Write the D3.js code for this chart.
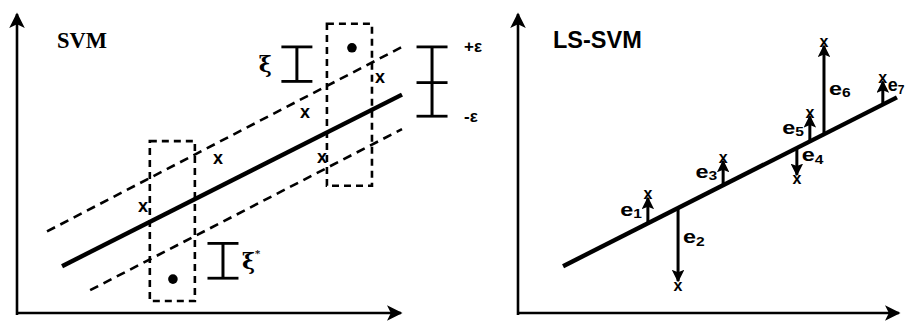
<!DOCTYPE html>
<html><head><meta charset="utf-8">
<script src="https://cdn.jsdelivr.net/npm/d3@7"></script>
<style>body{margin:0;background:#fff}svg{display:block}</style>
</head><body><svg id="c" width="907" height="321"></svg>
<script>
// ---------- data (abstract units 0..10 on each panel) ----------
const panelTitles = ["SVM", "LS-SVM"];
// SVM panel
const svmFitLine   = [[1.17, 1.56], [10, 7.28]];
const svmUpperTube = [[0.78, 2.72], [10, 8.87]];
const svmLowerTube = [[1.90, 0.76], [10, 6.13]];
const svmInX = [3.27, 5.22, 7.48, 7.92, 9.43];
const svmInY = [3.58, 5.17, 6.69, 5.20, 7.88];
const svmOutX = [4.05, 8.70];
const svmOutY = [1.13, 8.84];
const boxX0 = [3.45, 8.05], boxX1 = [4.62, 9.22];
const boxY0 = [0.40, 4.24], boxY1 = [5.73, 9.64];
const bracketLabels = ["ξ", "ξ", "ε"];
const bracketX = [7.27, 5.35, 10.78];
const bracketYs = [[8.87, 7.72], [2.32, 1.16], [8.87, 7.68, 6.56]];
const epsLabels = ["+ε", "-ε"];
// LS-SVM panel
const lsIntercept = 0.80, lsSlope = 0.644;
const lsFitX = [1.18, 9.92];
const lsX = [3.40, 4.19, 5.37, 7.30, 7.64, 8.01, 9.55];
const lsY = [3.97, 0.93, 5.20, 4.47, 6.69, 9.04, 7.85];
const lsIdx = ["1", "2", "3", "4", "5", "6", "7"];
const lsSide = ["L", "R", "L", "R", "L", "R", "R"];

// ---------- drawing ----------
const svg = d3.select("#c");
svg.append("rect").attr("width", 907).attr("height", 321).attr("fill", "#fff");
const defs = svg.append("defs");
defs.append("marker").attr("id", "ah").attr("viewBox", "0 0 10 10")
  .attr("refX", 9).attr("refY", 5).attr("markerWidth", 6).attr("markerHeight", 6)
  .attr("markerUnits", "strokeWidth").attr("orient", "auto")
  .append("path").attr("d", "M0,0 L10,5 L0,10 L2.5,5 Z").attr("fill", "#000");
defs.append("marker").attr("id", "rh").attr("viewBox", "0 0 10 10")
  .attr("refX", 9).attr("refY", 5).attr("markerWidth", 4.2).attr("markerHeight", 4.2)
  .attr("markerUnits", "strokeWidth").attr("orient", "auto")
  .append("path").attr("d", "M0,0 L10,5 L0,10 L2,5 Z").attr("fill", "#000");

const xL = d3.scaleLinear([0, 10], [17, 402]);
const yL = d3.scaleLinear([0, 10], [313, 13]);
const xR = d3.scaleLinear([0, 10], [518, 900]);
const yR = d3.scaleLinear([0, 10], [313, 13]);

function axes(g, x, y) {
  g.append("line").attr("x1", x(0)).attr("y1", y(0) + 2).attr("x2", x(0)).attr("y2", y(10) + 1)
    .attr("stroke", "#000").attr("stroke-width", 2.6).attr("marker-end", "url(#ah)");
  g.append("line").attr("x1", x(0) - 1).attr("y1", y(0)).attr("x2", x(10) - 1).attr("y2", y(0))
    .attr("stroke", "#000").attr("stroke-width", 2.6).attr("marker-end", "url(#ah)");
}
const line = (x, y) => d3.line().x(d => x(d[0])).y(d => y(d[1]));

// ----- left: SVM -----
const gL = svg.append("g");
axes(gL, xL, yL);
gL.append("text").attr("x", 57).attr("y", 48).text(panelTitles[0])
  .attr("font-family", "Liberation Serif, serif").attr("font-weight", "bold").attr("font-size", 22.5);

gL.append("path").attr("d", line(xL, yL)(svmUpperTube)).attr("stroke", "#000")
  .attr("stroke-width", 2.6).attr("stroke-dasharray", "9,6").attr("fill", "none");
gL.append("path").attr("d", line(xL, yL)(svmLowerTube)).attr("stroke", "#000")
  .attr("stroke-width", 2.6).attr("stroke-dasharray", "9,6").attr("fill", "none");
gL.append("path").attr("d", line(xL, yL)(svmFitLine)).attr("stroke", "#000")
  .attr("stroke-width", 4.4).attr("fill", "none");

boxX0.forEach((b, i) => {
  gL.append("rect").attr("x", xL(b)).attr("y", yL(boxY1[i]))
    .attr("width", xL(boxX1[i]) - xL(b)).attr("height", yL(boxY0[i]) - yL(boxY1[i]))
    .attr("fill", "none").attr("stroke", "#000").attr("stroke-width", 2.6).attr("stroke-dasharray", "7,5");
});
svmOutX.forEach((v, i) => {
  gL.append("circle").attr("cx", xL(v)).attr("cy", yL(svmOutY[i])).attr("r", 4.8).attr("fill", "#000");
});
svmInX.forEach((v, i) => {
  gL.append("text").attr("x", xL(v)).attr("y", yL(svmInY[i])).text("x")
    .attr("text-anchor", "middle").attr("dominant-baseline", "central")
    .attr("font-family", "Liberation Sans, sans-serif").attr("font-weight", "bold").attr("font-size", 18);
});
// brackets
bracketX.forEach((bx, i) => {
  const ys = bracketYs[i];
  const cx = xL(bx), hw = 15.5;
  gL.append("line").attr("x1", cx).attr("x2", cx).attr("y1", yL(ys[0])).attr("y2", yL(ys[ys.length - 1]))
    .attr("stroke", "#000").attr("stroke-width", 3);
  ys.forEach(yv => gL.append("line").attr("x1", cx - hw).attr("x2", cx + hw)
    .attr("y1", yL(yv)).attr("y2", yL(yv)).attr("stroke", "#000").attr("stroke-width", 2.8));
});
// xi labels
gL.append("text").attr("x", xL(bracketX[0]) - 25).attr("y", (yL(bracketYs[0][0]) + yL(bracketYs[0][1])) / 2)
  .text(bracketLabels[0]).attr("text-anchor", "end").attr("dominant-baseline", "central")
  .attr("font-family", "DejaVu Serif, serif").attr("font-weight", "bold").attr("font-size", 22);
const xs = gL.append("text").attr("x", xL(bracketX[1]) + 19).attr("y", (yL(bracketYs[1][0]) + yL(bracketYs[1][1])) / 2)
  .attr("dominant-baseline", "central")
  .attr("font-family", "DejaVu Serif, serif").attr("font-weight", "bold").attr("font-size", 22);
xs.append("tspan").text(bracketLabels[1]);
xs.append("tspan").text("*").attr("font-size", 10).attr("dy", -8);
// eps labels
const eY = bracketYs[2];
[eY[0], eY[2]].forEach((yv, i) => {
  gL.append("text").attr("x", xL(bracketX[2]) + 32).attr("y", yL(yv)).text(epsLabels[i])
    .attr("dominant-baseline", "central")
    .attr("font-family", "Liberation Sans, sans-serif").attr("font-weight", "bold").attr("font-size", 17);
});

// ----- right: LS-SVM -----
const gR = svg.append("g");
axes(gR, xR, yR);
gR.append("text").attr("x", 553).attr("y", 48).text(panelTitles[1])
  .attr("font-family", "Liberation Sans, sans-serif").attr("font-weight", "bold").attr("font-size", 23.5);
const fy = v => lsIntercept + lsSlope * v;
gR.append("path").attr("d", line(xR, yR)(lsFitX.map(v => [v, fy(v)]))).attr("stroke", "#000")
  .attr("stroke-width", 4.4).attr("fill", "none");

lsX.forEach((v, i) => {
  const px = xR(v), y0 = yR(fy(v)), y1 = yR(lsY[i]);
  const dir = y1 < y0 ? -1 : 1;
  gR.append("line").attr("x1", px).attr("x2", px).attr("y1", y0).attr("y2", y1 - dir * 4)
    .attr("stroke", "#000").attr("stroke-width", 3).attr("marker-end", "url(#rh)");
  gR.append("text").attr("x", px).attr("y", y1).text("x")
    .attr("text-anchor", "middle").attr("dominant-baseline", "central")
    .attr("font-family", "Liberation Sans, sans-serif").attr("font-weight", "bold").attr("font-size", 16);
  const my = (y0 + y1) / 2 + (i === 3 ? -9 : i === 6 ? -6 : i === 1 ? -10 : 0);
  const left = lsSide[i] === "L";
  const sx = i === 6 ? 1.0 : 1.3;
  const g = gR.append("g").attr("transform", `translate(${left ? px - 6 : px + 5},${my}) scale(${sx},1)`);
  const t = g.append("text").attr("text-anchor", left ? "end" : "start").attr("dominant-baseline", "central")
    .attr("font-family", "Liberation Sans, sans-serif").attr("font-weight", "bold").attr("font-size", 18);
  t.append("tspan").text("e");
  t.append("tspan").text(lsIdx[i]).attr("font-size", 12).attr("dy", 5);
});
</script></body></html>
